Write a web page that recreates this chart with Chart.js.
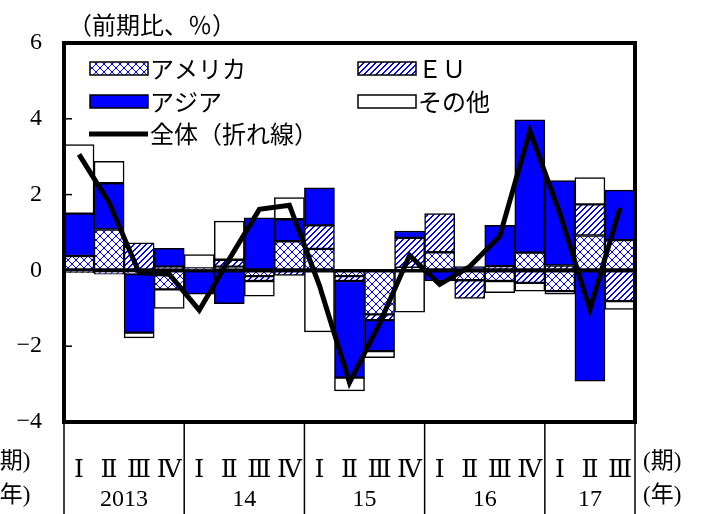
<!DOCTYPE html>
<html>
<head>
<meta charset="utf-8">
<script src="https://cdn.jsdelivr.net/npm/chart.js@4.4.0/dist/chart.umd.min.js"></script>
<style>
  html, body { margin: 0; padding: 0; background: #fff; }
</style>
</head>
<body>
<canvas id="chart" width="703" height="514"></canvas>
<script>
// 四半期ラベルと年ラベル
const quarters = ['Ⅰ', 'Ⅱ', 'Ⅲ', 'Ⅳ', 'Ⅰ', 'Ⅱ', 'Ⅲ', 'Ⅳ', 'Ⅰ', 'Ⅱ', 'Ⅲ', 'Ⅳ', 'Ⅰ', 'Ⅱ', 'Ⅲ', 'Ⅳ', 'Ⅰ', 'Ⅱ', 'Ⅲ'];
const years = ['2013', '14', '15', '16', '17'];
const quartersPerYear = [4, 4, 4, 4, 3];

// 地域別寄与度（前期比、%）
const america = [0.38, 1.08, -0.10, -0.50, 0.05, 0.10, -0.15, 0.77, 0.57, -0.15, -1.16, 0.07, 0.48, -0.26, -0.28, 0.47, -0.55, 0.92, 0.80];
const eu      = [-0.06, -0.10, 0.73, 0.10, 0.00, 0.18, -0.13, -0.13, 0.62, -0.13, -0.15, 0.79, 1.02, -0.48, 0.11, -0.33, 0.13, 0.82, -0.81];
const asia    = [1.12, 1.22, -1.54, 0.48, -0.63, -0.88, 1.39, 0.58, 0.99, -2.55, -0.82, 0.18, -0.28, 0.10, 1.08, 3.50, 2.24, -2.92, 1.32];
const other   = [1.82, 0.58, -0.14, -0.50, 0.37, 1.02, -0.40, 0.57, -1.62, -0.35, -0.17, -1.10, 0.00, 0.00, -0.31, -0.22, -0.08, 0.71, -0.22];
const total   = [3.06, 1.79, -0.06, -0.10, -1.05, 0.30, 1.61, 1.72, -0.40, -2.96, -1.40, 0.40, -0.37, 0.10, 0.90, 3.68, 1.50, -1.03, 1.65];

const BLUE = '#0000ff';
const SERIF = "'Liberation Serif', 'Noto Sans CJK JP', serif";
const ROMAN = "'DejaVu Serif', 'Liberation Serif', serif";
const JP = "'Noto Sans CJK JP', sans-serif";

// 網掛けパターン（アメリカ：菱形、ＥＵ：斜線）
function crossPattern() {
    const c = document.createElement('canvas');
    c.width = 8; c.height = 8;
    const g = c.getContext('2d');
    g.fillStyle = '#fff';
    g.fillRect(0, 0, 8, 8);
    g.fillStyle = BLUE;
    for (let i = 0; i < 8; i++) {
        g.fillRect(i, i, 1, 1);
        g.fillRect(i, 7 - i, 1, 1);
    }
    return g.createPattern(c, 'repeat');
}

function hatchPattern() {
    const c = document.createElement('canvas');
    c.width = 6; c.height = 6;
    const g = c.getContext('2d');
    g.fillStyle = '#fff';
    g.fillRect(0, 0, 6, 6);
    g.fillStyle = BLUE;
    for (let i = 0; i < 6; i++) {
        g.fillRect(i, 5 - i, 1, 1);
        g.fillRect((i + 1) % 6, 5 - i, 1, 1);
    }
    return g.createPattern(c, 'repeat');
}

const cross = crossPattern();
const hatch = hatchPattern();

function barSet(label, data, fill) {
    return {
        type: 'bar',
        label: label,
        data: data,
        backgroundColor: fill,
        borderColor: '#000',
        borderWidth: 1.5,
        borderSkipped: false,
        stack: 'region',
        order: 1,
        categoryPercentage: 1.0,
        barPercentage: 1.0
    };
}

// 凡例・枠・年の区切りを描く
const decorations = {
    id: 'decorations',
    afterDraw(chart) {
        const ctx = chart.ctx;
        const area = chart.chartArea;
        const x = chart.scales.x;
        const y = chart.scales.y;
        ctx.save();

        // 目盛り（内向き）
        ctx.strokeStyle = '#000';
        ctx.lineWidth = 1.5;
        y.ticks.forEach(t => {
            const py = y.getPixelForValue(t.value);
            ctx.beginPath();
            ctx.moveTo(area.left, py);
            ctx.lineTo(area.left + 8, py);
            ctx.stroke();
        });

        // 外枠
        ctx.lineWidth = 4;
        ctx.strokeRect(area.left, area.top, area.right - area.left, area.bottom - area.top);

        // 年の区切り線と年ラベル
        ctx.lineWidth = 1.5;
        const bounds = [area.left];
        let idx = 0;
        quartersPerYear.forEach(n => {
            idx += n;
            if (idx < quarters.length) {
                bounds.push((x.getPixelForValue(idx - 1) + x.getPixelForValue(idx)) / 2);
            } else {
                bounds.push(area.right);
            }
        });
        bounds.forEach(bx => {
            ctx.beginPath();
            ctx.moveTo(bx, area.bottom);
            ctx.lineTo(bx, chart.height);
            ctx.stroke();
        });
        ctx.fillStyle = '#000';
        ctx.font = '24px ' + SERIF;
        ctx.textAlign = 'center';
        ctx.textBaseline = 'middle';
        years.forEach((yr, i) => {
            ctx.fillText(yr, (bounds[i] + bounds[i + 1]) / 2, 500);
        });

        // 単位
        ctx.font = '23px ' + SERIF;
        ctx.textAlign = 'left';
        ctx.fillText('(期)', 643, 462);
        ctx.fillText('(年)', 643, 496);
        ctx.fillText('(期)', -8, 462);
        ctx.fillText('(年)', -8, 496);
        ctx.font = '24px ' + JP;
        ctx.fillText('（前期比、％）', 68, 25);

        // 凡例
        const items = [
            { label: 'アメリカ', fill: cross, x: 90, y: 68 },
            { label: 'ＥＵ', fill: hatch, x: 358, y: 68 },
            { label: 'アジア', fill: BLUE, x: 90, y: 101 },
            { label: 'その他', fill: '#fff', x: 358, y: 101 }
        ];
        ctx.font = '24px ' + JP;
        items.forEach(it => {
            ctx.fillStyle = it.fill;
            ctx.fillRect(it.x, it.y - 6, 58, 13);
            ctx.lineWidth = 1.5;
            ctx.strokeStyle = '#000';
            ctx.strokeRect(it.x, it.y - 6, 58, 13);
            ctx.fillStyle = '#000';
            ctx.fillText(it.label, it.x + 60, it.y + 1);
        });
        ctx.lineWidth = 5;
        ctx.beginPath();
        ctx.moveTo(89, 134);
        ctx.lineTo(148, 134);
        ctx.stroke();
        ctx.fillText('全体（折れ線）', 150, 134);

        ctx.restore();
    }
};

new Chart(document.getElementById('chart'), {
    data: {
        labels: quarters,
        datasets: [
            {
                type: 'line',
                label: '全体（折れ線）',
                data: total,
                borderColor: '#000',
                borderWidth: 5,
                borderJoinStyle: 'miter',
                pointRadius: 0,
                tension: 0,
                fill: false,
                stack: 'total',
                order: 0
            },
            barSet('アメリカ', america, cross),
            barSet('ＥＵ', eu, hatch),
            barSet('アジア', asia, BLUE),
            barSet('その他', other, '#fff')
        ]
    },
    options: {
        responsive: false,
        animation: false,
        layout: { padding: { top: 43, right: 68, left: 0, bottom: 0 } },
        plugins: {
            legend: { display: false },
            tooltip: { enabled: false }
        },
        scales: {
            x: {
                stacked: true,
                grid: { display: false },
                border: { display: false },
                ticks: {
                    color: '#000',
                    font: { family: ROMAN, size: 25 },
                    padding: 25,
                    maxRotation: 0,
                    autoSkip: false
                },
                afterFit(scale) { scale.height = 92; }
            },
            y: {
                stacked: true,
                min: -4,
                max: 6,
                border: { display: false },
                grid: {
                    drawTicks: false,
                    color: c => c.tick.value === 0 ? '#000' : 'rgba(0,0,0,0)',
                    lineWidth: 2
                },
                ticks: {
                    stepSize: 2,
                    color: '#000',
                    padding: 22,
                    font: { family: SERIF, size: 24 },
                    callback: v => v < 0 ? '−' + Math.abs(v) : String(v)
                },
                afterFit(scale) { scale.width = 64; }
            }
        }
    },
    plugins: [decorations]
});
</script>
</body>
</html>
